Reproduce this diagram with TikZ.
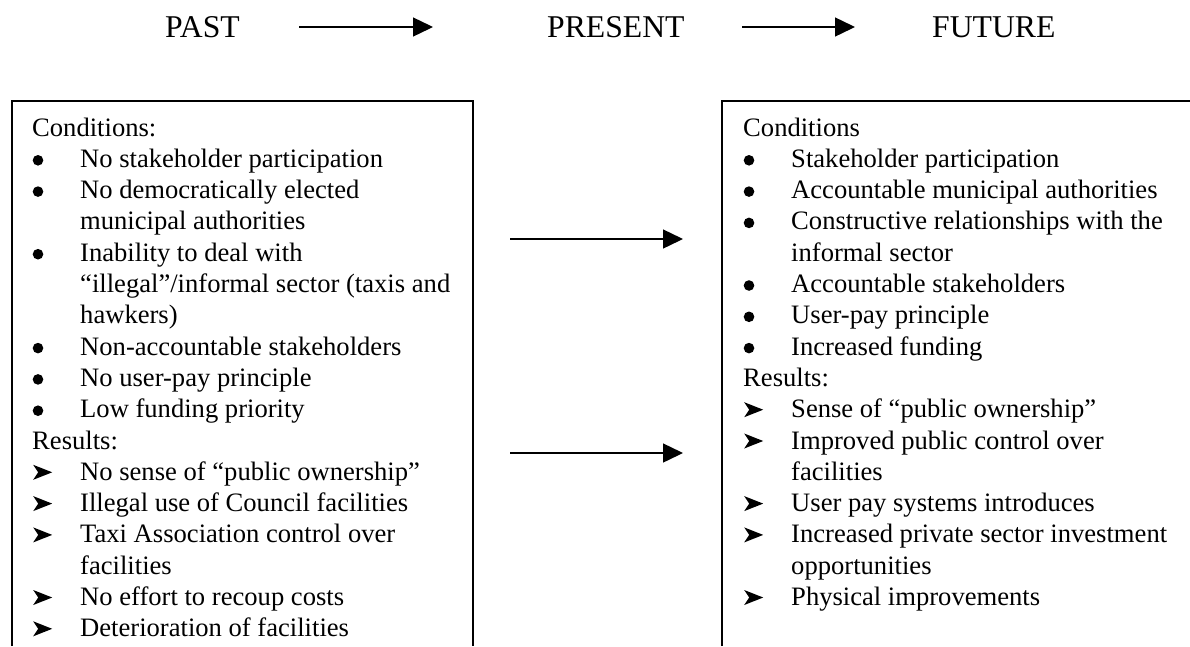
\documentclass[tikz,border=0pt]{standalone}
\usepackage{fontspec}
\setmainfont{Liberation Serif}
\usetikzlibrary{arrows.meta}
\newcommand{\bul}{\makebox[48pt][l]{\hspace{0.5pt}\tikz[x=1pt,y=1pt,baseline=0pt]\fill (5.5,7) circle (5.3);}}
\newcommand{\arw}{\makebox[48pt][l]{\hspace{1pt}\tikz[x=1pt,y=1pt,baseline=0pt]\fill (0,0.5) -- (19,8) -- (0,15.5) -- (5,8) -- cycle;}}
\newcommand{\ind}{\hspace*{48pt}}

\begin{document}
\begin{tikzpicture}[x=1pt,y=-1pt,
    title/.style={anchor=base west,inner sep=0pt,font=\fontsize{31.7}{38}\selectfont},
    row/.style={anchor=base west,inner sep=0pt,font=\fontsize{26.6}{31.3}\selectfont},
    arr/.style={line width=1.4pt,-{Triangle[length=20pt,width=19pt]}},
    frame/.style={line width=1.6pt}]
    \fill[white] (0,0) rectangle (1190,646);
    \useasboundingbox (0,0) rectangle (1190,646);
    \node[title] (past) at (165,37) {PAST};
    \node[title] (present) at (547,37) {PRESENT};
    \node[title] (future) at (932,37) {FUTURE};
    \coordinate (t1a) at (299,27);
    \coordinate (t1b) at (433,27);
    \coordinate (t2a) at (742,27);
    \coordinate (t2b) at (855,27);
    \draw[arr] (t1a) -- (t1b);
    \draw[arr] (t2a) -- (t2b);
    \draw[frame] (12,646) -- (12,101) -- (473,101) -- (473,646);
    \draw[frame] (722,646) -- (722,101) -- (1190,101);
    \foreach \txt [count=\i from 0] in {Conditions:,
        \bul No stakeholder participation,
        \bul No democratically elected,
        \ind municipal authorities,
        \bul Inability to deal with,
        \ind “illegal”/informal sector (taxis and,
        \ind hawkers),
        \bul Non-accountable stakeholders,
        \bul No user-pay principle,
        \bul Low funding priority,
        Results:,
        \arw No sense of “public ownership”,
        \arw Illegal use of Council facilities,
        \arw Taxi Association control over,
        \ind facilities,
        \arw No effort to recoup costs,
        \arw Deterioration of facilities}
      \node[row] (l\i) at (32,136+\i*31.3) {\txt};
    \foreach \txt [count=\i from 0] in {Conditions,
        \bul Stakeholder participation,
        \bul Accountable municipal authorities,
        \bul Constructive relationships with the,
        \ind informal sector,
        \bul Accountable stakeholders,
        \bul User-pay principle,
        \bul Increased funding,
        Results:,
        \arw Sense of “public ownership”,
        \arw Improved public control over,
        \ind facilities,
        \arw User pay systems introduces,
        \arw Increased private sector investment,
        \ind opportunities,
        \arw Physical improvements}
      \node[row] (r\i) at (743,136+\i*31.3) {\txt};
    \coordinate (m1a) at (510,239);
    \coordinate (m1b) at (683,239);
    \coordinate (m2a) at (510,453);
    \coordinate (m2b) at (683,453);
    \draw[arr] (m1a) -- (m1b);
    \draw[arr] (m2a) -- (m2b);
\end{tikzpicture}
\end{document}
